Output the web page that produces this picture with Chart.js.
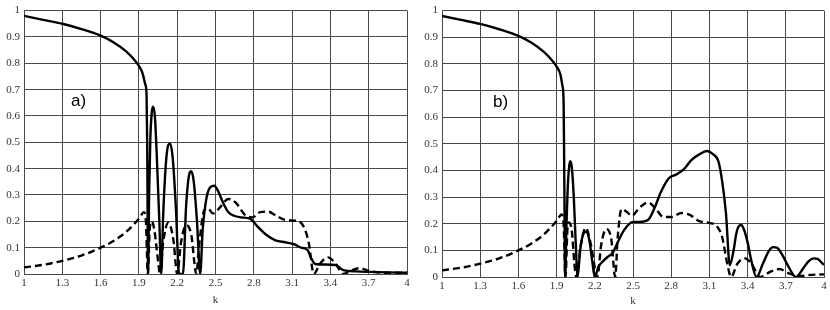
<!DOCTYPE html>
<html>
<head>
<meta charset="utf-8">
<script src="https://cdn.jsdelivr.net/npm/chart.js@4"></script>
<style>
  body { margin: 0; background: #fff; width: 830px; height: 310px; position: relative; overflow: hidden; }
  canvas { position: absolute; top: 0; }
  .tag { position: absolute; font-family: "Liberation Sans", Arial, sans-serif; font-size: 17px; color: #000; }
</style>
</head>
<body>
<canvas id="chartA" width="415" height="310" style="left:0"></canvas>
<canvas id="chartB" width="412" height="310" style="left:418px"></canvas>
<div class="tag" style="left:71px; top:91px">a)</div>
<div class="tag" style="left:493px; top:92px">b)</div>
<script>
// tick values
const xTicks = [1, 1.3, 1.6, 1.9, 2.2, 2.5, 2.8, 3.1, 3.4, 3.7, 4];
const yTicks = [0, 0.1, 0.2, 0.3, 0.4, 0.5, 0.6, 0.7, 0.8, 0.9, 1];

// panel a) solid curve
const kSolidA = [1.0, 1.15, 1.3, 1.45, 1.6, 1.7, 1.8, 1.87, 1.9, 1.93, 1.95, 1.96, 1.965, 1.972,
  1.98, 1.99, 2.0, 2.01, 2.025, 2.04, 2.06, 2.075, 2.09, 2.11, 2.13, 2.145, 2.165, 2.19, 2.215,
  2.245, 2.27, 2.295, 2.31, 2.33, 2.355, 2.38, 2.4, 2.43, 2.46, 2.49, 2.52, 2.56, 2.6, 2.64,
  2.7, 2.77, 2.83, 2.9, 2.97, 3.05, 3.12, 3.17, 3.22, 3.25, 3.28, 3.35, 3.44, 3.5, 3.6, 3.7,
  3.85, 4.0];
const solidA = [0.98, 0.965, 0.95, 0.93, 0.905, 0.88, 0.845, 0.81, 0.79, 0.76, 0.72, 0.68, 0.5, 0.0,
  0.3, 0.52, 0.61, 0.635, 0.6, 0.45, 0.2, 0.0, 0.22, 0.41, 0.49, 0.495, 0.44, 0.25, 0.0,
  0.0, 0.26, 0.38, 0.39, 0.35, 0.2, 0.0, 0.17, 0.29, 0.33, 0.335, 0.315, 0.27, 0.235, 0.222,
  0.215, 0.21, 0.18, 0.148, 0.128, 0.12, 0.112, 0.1, 0.092, 0.06, 0.038, 0.036, 0.034, 0.015,
  0.01, 0.008, 0.006, 0.005];

// panel a) dashed curve
const kDashA = [1.0, 1.15, 1.3, 1.45, 1.6, 1.7, 1.8, 1.9, 1.94, 1.955, 1.97, 1.985, 2.0, 2.02,
  2.05, 2.065, 2.09, 2.13, 2.17, 2.2, 2.23, 2.27, 2.31, 2.35, 2.37, 2.41, 2.44, 2.48, 2.53,
  2.6, 2.66, 2.73, 2.79, 2.85, 2.91, 2.98, 3.05, 3.15, 3.19, 3.23, 3.27, 3.32, 3.38, 3.44,
  3.5, 3.57, 3.63, 3.7, 3.8, 4.0];
const dashA = [0.025, 0.035, 0.05, 0.07, 0.1, 0.125, 0.16, 0.21, 0.235, 0.2, 0.0, 0.17, 0.2, 0.17,
  0.05, 0.0, 0.12, 0.195, 0.13, 0.0, 0.12, 0.185, 0.15, 0.0, 0.1, 0.24, 0.25, 0.23, 0.25,
  0.285, 0.27, 0.225, 0.215, 0.235, 0.237, 0.22, 0.205, 0.2, 0.18, 0.12, 0.0, 0.04, 0.063, 0.04,
  0.0, 0.015, 0.022, 0.012, 0.005, 0.005];

// panel b) solid curve
const kSolidB = [1.0, 1.15, 1.3, 1.45, 1.6, 1.7, 1.8, 1.87, 1.9, 1.93, 1.945, 1.955, 1.96, 1.967,
  1.978, 1.99, 2.0, 2.008, 2.02, 2.035, 2.05, 2.065, 2.085, 2.105, 2.125, 2.14, 2.16, 2.18, 2.2,
  2.23, 2.26, 2.3, 2.34, 2.37, 2.43, 2.5, 2.55, 2.62, 2.67, 2.72, 2.78, 2.84, 2.9, 2.96, 3.02,
  3.08, 3.13, 3.17, 3.2, 3.23, 3.26, 3.29, 3.31, 3.33, 3.35, 3.37, 3.4, 3.43, 3.47, 3.52, 3.57,
  3.6, 3.63, 3.67, 3.72, 3.78, 3.84, 3.88, 3.92, 3.95, 3.98, 4.0];
const solidB = [0.98, 0.965, 0.95, 0.93, 0.905, 0.88, 0.845, 0.81, 0.79, 0.76, 0.72, 0.66, 0.4, 0.0,
  0.2, 0.36, 0.42, 0.435, 0.41, 0.3, 0.13, 0.0, 0.1, 0.155, 0.17, 0.168, 0.13, 0.06, 0.0,
  0.04, 0.057, 0.075, 0.09, 0.12, 0.176, 0.207, 0.207, 0.215, 0.26, 0.32, 0.37, 0.385, 0.405,
  0.44, 0.46, 0.473, 0.46, 0.435, 0.36, 0.24, 0.045, 0.1, 0.16, 0.19, 0.195, 0.18, 0.13, 0.06,
  0.0, 0.05, 0.1, 0.112, 0.11, 0.085, 0.04, 0.0, 0.035, 0.06, 0.07, 0.068, 0.055, 0.045];

// panel b) dashed curve
const kDashB = [1.0, 1.15, 1.3, 1.45, 1.6, 1.7, 1.8, 1.9, 1.94, 1.955, 1.97, 1.985, 1.995, 2.02,
  2.04, 2.055, 2.09, 2.13, 2.17, 2.22, 2.25, 2.29, 2.33, 2.36, 2.38, 2.41, 2.45, 2.49, 2.55,
  2.62, 2.68, 2.74, 2.8, 2.88, 2.95, 3.02, 3.1, 3.16, 3.2, 3.24, 3.27, 3.32, 3.38, 3.43, 3.5,
  3.58, 3.65, 3.72, 3.8, 3.9, 4.0];
const dashB = [0.025, 0.035, 0.05, 0.07, 0.1, 0.125, 0.16, 0.21, 0.235, 0.2, 0.0, 0.18, 0.205, 0.17,
  0.05, 0.0, 0.12, 0.185, 0.12, 0.0, 0.12, 0.18, 0.14, 0.0, 0.15, 0.255, 0.245, 0.23, 0.26,
  0.28, 0.255, 0.225, 0.225, 0.24, 0.232, 0.21, 0.203, 0.19, 0.15, 0.05, 0.0, 0.05, 0.07, 0.05, 0.0,
  0.02, 0.03, 0.015, 0.003, 0.008, 0.01];

function toPoints(ks, vals) {
    return ks.map((k, i) => ({ x: k, y: vals[i] }));
}

function makeChart(id, solidPts, dashPts, pad, xAxisHeight, titlePad) {
    const tickFont = { family: '"Liberation Serif", "DejaVu Serif", serif', size: 11 };
    const gridColor = '#4a4a4a';
    return new Chart(document.getElementById(id), {
        type: 'line',
        data: {
            datasets: [
                {
                    data: solidPts,
                    borderColor: '#000',
                    borderWidth: 2.4,
                    pointRadius: 0,
                    cubicInterpolationMode: 'monotone'
                },
                {
                    data: dashPts,
                    borderColor: '#000',
                    borderWidth: 2.4,
                    borderDash: [7, 4],
                    pointRadius: 0,
                    cubicInterpolationMode: 'monotone'
                }
            ]
        },
        options: {
            responsive: false,
            animation: false,
            layout: { padding: pad },
            plugins: { legend: { display: false }, tooltip: { enabled: false } },
            scales: {
                x: {
                    type: 'linear',
                    min: 1,
                    max: 4,
                    afterBuildTicks: axis => { axis.ticks = xTicks.map(v => ({ value: v })); },
                    afterFit: scale => { scale.height = xAxisHeight; },
                    ticks: {
                        font: tickFont,
                        color: '#333',
                        padding: 3,
                        maxRotation: 0,
                        autoSkip: false,
                        callback: v => String(v)
                    },
                    grid: { color: gridColor, lineWidth: 1, drawTicks: false },
                    border: { color: gridColor },
                    title: {
                        display: true,
                        text: 'k',
                        font: tickFont,
                        color: '#333',
                        padding: { top: 0, bottom: titlePad }
                    }
                },
                y: {
                    min: 0,
                    max: 1,
                    afterBuildTicks: axis => { axis.ticks = yTicks.map(v => ({ value: v })); },
                    afterFit: scale => { scale.width = 24; },
                    ticks: {
                        font: tickFont,
                        color: '#333',
                        padding: 4,
                        callback: v => String(v)
                    },
                    grid: { color: gridColor, lineWidth: 1, drawTicks: false },
                    border: { color: gridColor }
                }
            }
        }
    });
}

makeChart('chartA', toPoints(kSolidA, solidA), toPoints(kDashA, dashA),
    { left: 0, top: 9, right: 8, bottom: 0 }, 36, 3);
makeChart('chartB', toPoints(kSolidB, solidB), toPoints(kDashB, dashB),
    { left: 0, top: 10, right: 6, bottom: 0 }, 33, 2);
</script>
</body>
</html>
